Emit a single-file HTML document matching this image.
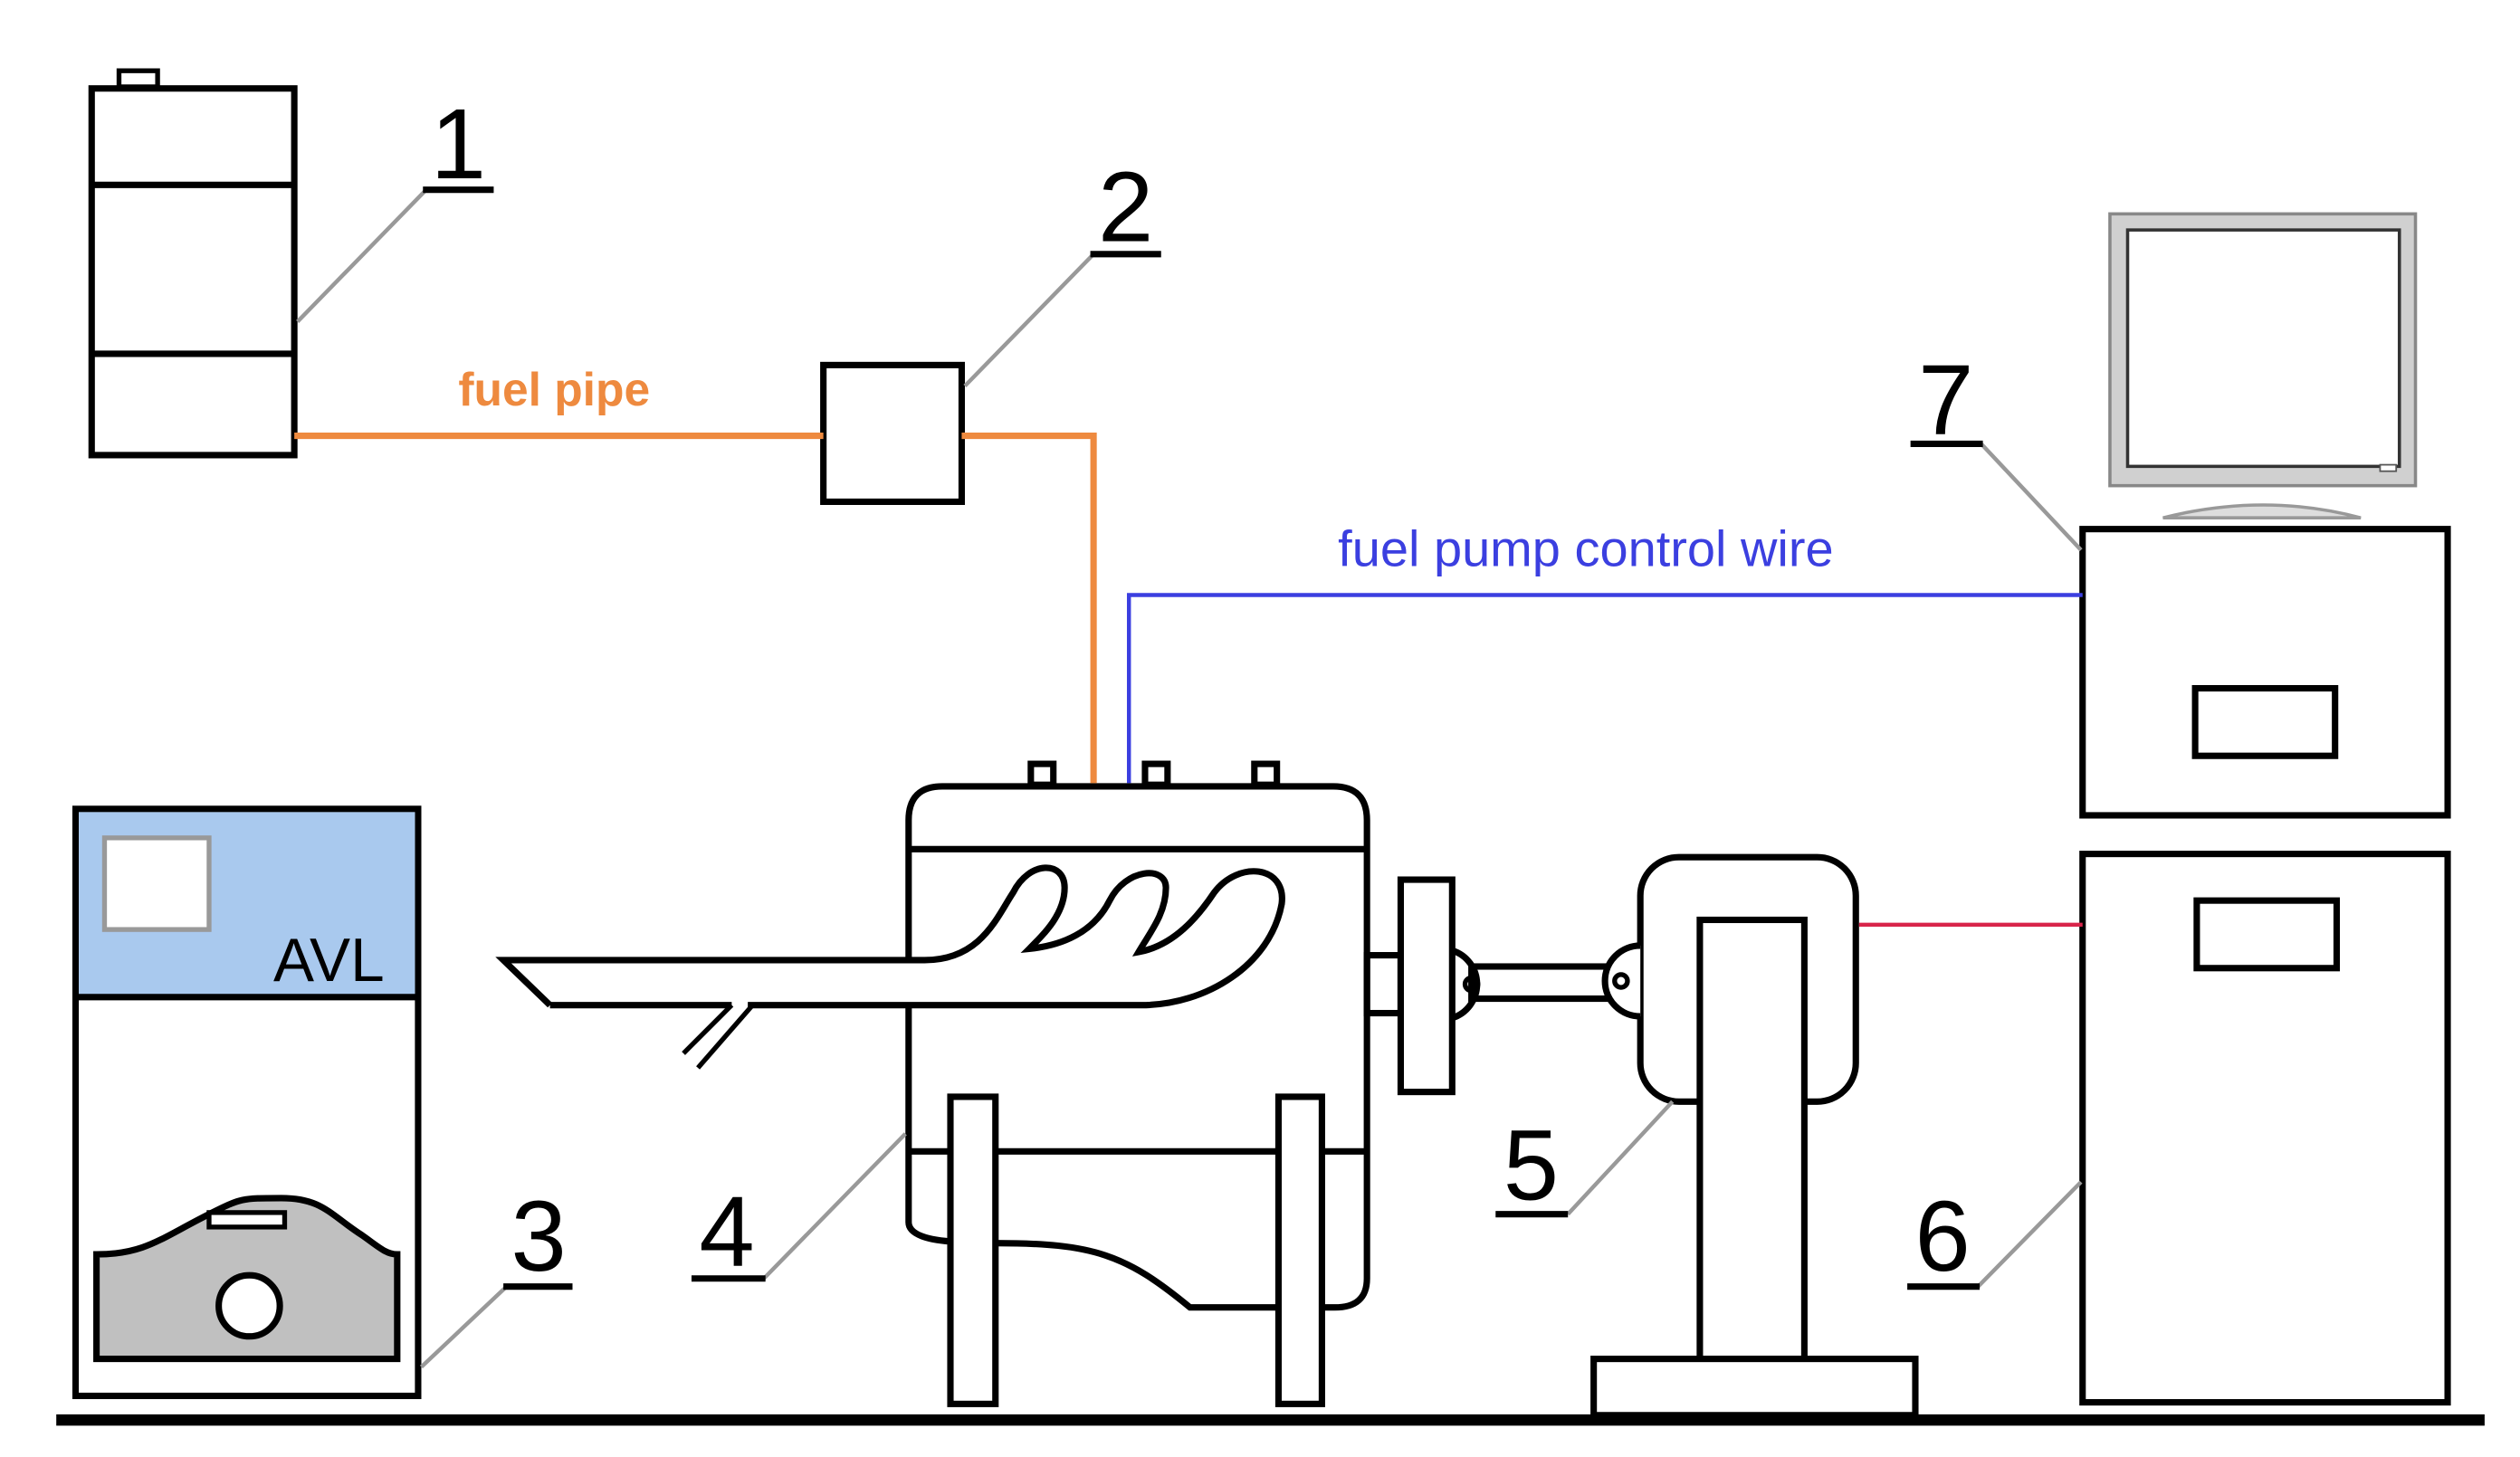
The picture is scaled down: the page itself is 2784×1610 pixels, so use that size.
<!DOCTYPE html>
<html><head><meta charset="utf-8"><style>html,body{margin:0;padding:0;background:#fff}svg{display:block}</style></head>
<body>
<svg width="2784" height="1610" viewBox="0 0 1567 906" preserveAspectRatio="none" xmlns="http://www.w3.org/2000/svg" font-family="Liberation Sans, sans-serif">
<rect width="1567" height="906" fill="#fff"/>
<g fill="none" stroke="#000" stroke-width="4">
<rect x="74" y="44" width="24" height="10" stroke-width="3"/>
<rect x="57" y="55" width="126" height="228"/>
<line x1="57" y1="115" x2="183" y2="115"/>
<line x1="57" y1="220" x2="183" y2="220"/>
<rect x="512" y="227" width="86" height="85"/>
<rect x="1295" y="329" width="227" height="178"/>
<rect x="1365" y="428" width="87" height="42"/>
<rect x="1295" y="531" width="227" height="341"/>
<rect x="1366" y="560" width="87" height="42"/>
<rect x="1020" y="533" width="134" height="152" rx="24"/>
<rect x="1057" y="572" width="65" height="273" fill="#fff"/>
<rect x="991" y="845" width="200" height="35" fill="#fff"/>
<rect x="850" y="594" width="21" height="36"/>
<rect x="871" y="547" width="32" height="132" fill="#fff"/>
<rect x="915" y="601" width="93" height="20" fill="#fff"/>
<path d="M903 591 A22 22 0 0 1 903 633" />
<circle cx="915" cy="612" r="4" stroke-width="3"/>
<path d="M1020 588 A22 22 0 0 0 1020 632" fill="#fff"/>
<circle cx="1008" cy="610" r="4" stroke-width="3"/>
<rect x="641" y="475" width="14" height="13"/>
<rect x="712" y="475" width="14" height="13"/>
<rect x="780" y="475" width="14" height="13"/>
<path d="M565 760 L565 510 Q565 489 586 489 L829 489 Q850 489 850 510 L850 795 Q850 813 830 813 L822 813"/>
<path d="M565 760 Q565 770 591 772"/>
<line x1="565" y1="528" x2="850" y2="528"/>
<line x1="565" y1="716" x2="850" y2="716"/>
<path d="M619 773 C680 773 700 780 740 813 L795 813"/>
<rect x="591" y="682" width="28" height="191" fill="#fff"/>
<rect x="795" y="682" width="27" height="191" fill="#fff"/>
<path d="M342 625 L313 597 L575 597 C610 597 620 570 630 555 C640 535 662 535 662 552 C662 568 650 580 640 590 C660 588 680 580 690 560 C700 540 725 538 725 552 C725 568 715 580 708 592 C730 588 745 570 755 555 C770 535 800 538 797 562 C790 600 750 625 710 625 L465 625" fill="#fff"/>
<line x1="342" y1="625" x2="455" y2="625"/>
<line x1="455" y1="625" x2="425" y2="655" stroke-width="3"/>
<line x1="468" y1="625" x2="434" y2="664" stroke-width="3"/>
<rect x="47" y="503" width="213" height="365"/>
<rect x="49" y="505" width="209" height="115" fill="#a9c9ee" stroke="none"/>
<line x1="47" y1="620" x2="260" y2="620"/>
<rect x="65" y="521" width="65" height="57" fill="#fff" stroke="#999" stroke-width="3"/>
<path d="M60 780 C90 780 100 770 130 755 C150 745 150 745 175 745 C200 745 205 755 225 768 C235 775 240 780 247 780 L247 845 L60 845 Z" fill="#c0c0c0"/>
<rect x="130" y="754" width="47" height="9" fill="#fff" stroke-width="3"/>
<circle cx="155" cy="812" r="19" fill="#fff"/>
<path d="M1345 322 Q1408 306 1468 322 Z" fill="#ddd" stroke="#999" stroke-width="2"/>
<rect x="1312" y="133" width="190" height="169" fill="#d0d0d0" stroke="#888" stroke-width="2"/>
<rect x="1323" y="143" width="169" height="147" fill="#fff" stroke="#333" stroke-width="2"/>
<rect x="1480" y="289" width="10" height="4" fill="#fff" stroke="#555" stroke-width="1"/>
</g>
<polyline points="183,271 512,271" fill="none" stroke="#ee8a3f" stroke-width="4"/>
<polyline points="598,271 680,271 680,487" fill="none" stroke="#ee8a3f" stroke-width="4"/>
<polyline points="702,487 702,370 1295,370" fill="none" stroke="#3b3fe0" stroke-width="2.5"/>
<line x1="1156" y1="575" x2="1295" y2="575" stroke="#d8244a" stroke-width="2.5"/>
<g stroke="#999" stroke-width="2.5" fill="none">
<line x1="185" y1="200" x2="265" y2="118"/>
<line x1="600" y1="240" x2="680" y2="158"/>
<line x1="1232" y1="276" x2="1294" y2="342"/>
<line x1="1230" y1="800" x2="1294" y2="735"/>
<line x1="975" y1="755" x2="1040" y2="685"/>
<line x1="475" y1="795" x2="563" y2="705"/>
<line x1="262" y1="850" x2="315" y2="800"/>
</g>
<g stroke="#000" stroke-width="4">
<line x1="263" y1="118" x2="307" y2="118"/>
<line x1="678" y1="158" x2="722" y2="158"/>
<line x1="1188" y1="276" x2="1233" y2="276"/>
<line x1="1186" y1="800" x2="1231" y2="800"/>
<line x1="930" y1="755" x2="975" y2="755"/>
<line x1="430" y1="795" x2="476" y2="795"/>
<line x1="313" y1="800" x2="356" y2="800"/>
<line x1="35" y1="883" x2="1545" y2="883" stroke-width="7"/>
</g>
<g font-size="62" fill="#000" text-anchor="middle">
<text x="285" y="111">1</text>
<text x="700" y="150">2</text>
<text x="1210" y="270">7</text>
<text x="1208" y="790">6</text>
<text x="952" y="746">5</text>
<text x="452" y="787">4</text>
<text x="335" y="790">3</text>
</g>
<text x="170" y="610" font-size="38" fill="#000">AVL</text>
<text x="285" y="252" font-size="29" font-weight="bold" fill="#ee8a3f">fuel pipe</text>
<text x="832" y="352" font-size="31.5" fill="#3b3fe0">fuel pump control wire</text>
</svg>
</body></html>
